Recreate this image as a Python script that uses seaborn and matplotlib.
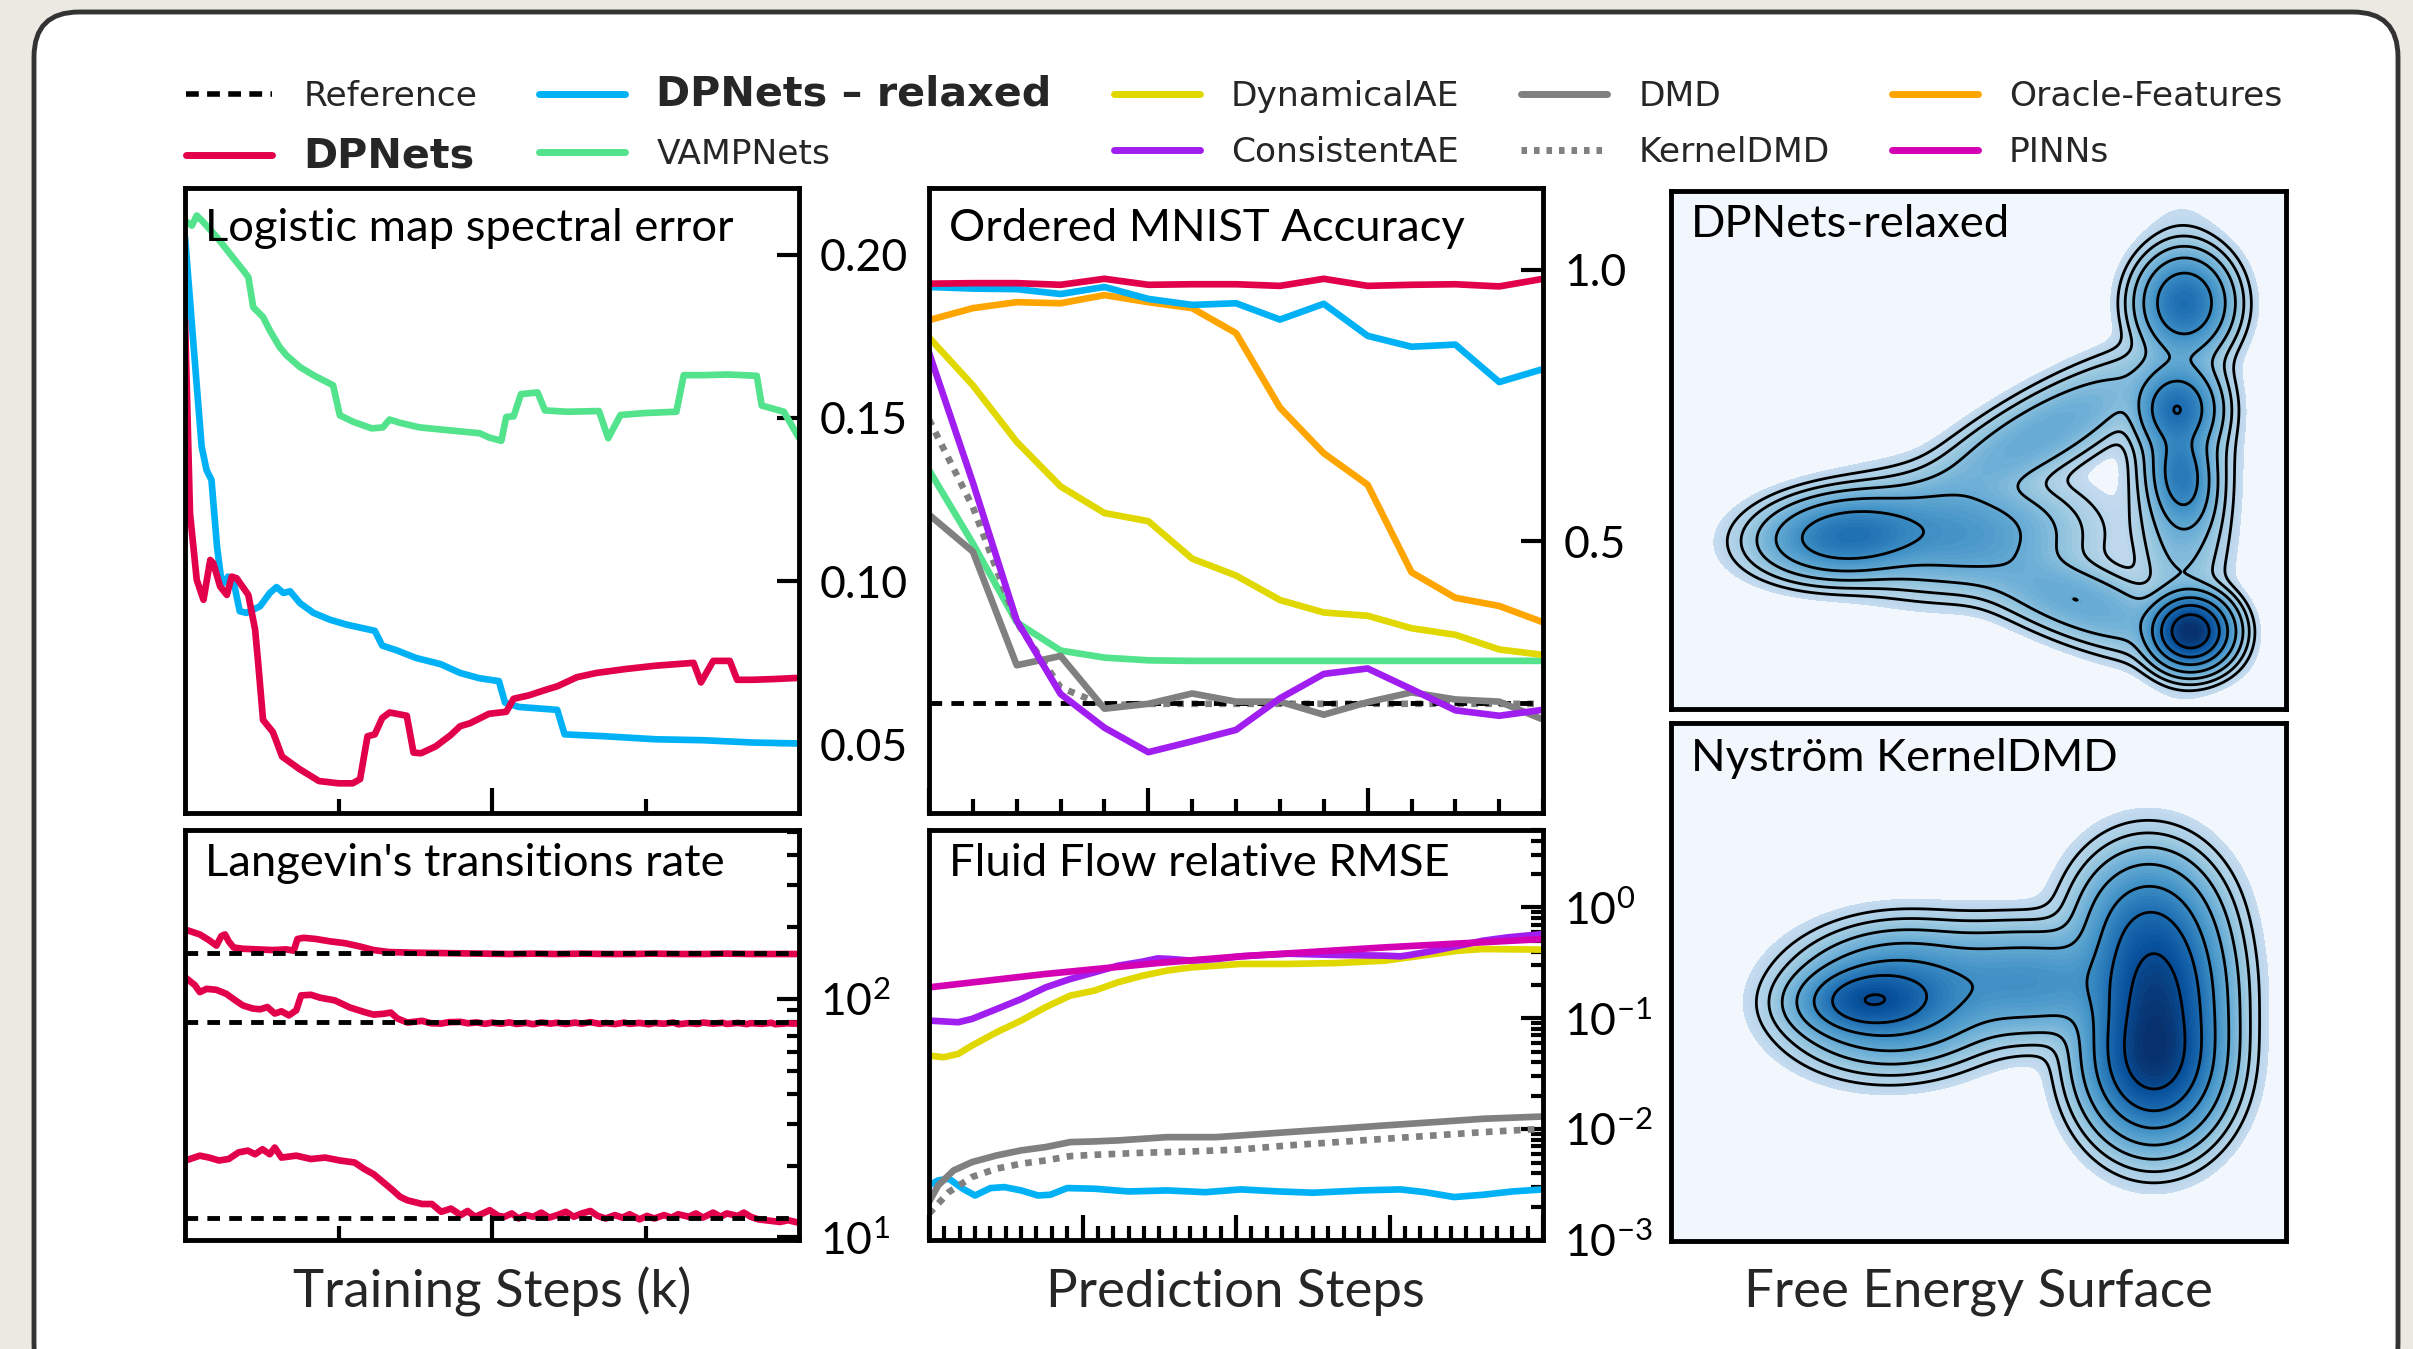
import numpy as np
import matplotlib
matplotlib.use("Agg")
import matplotlib.pyplot as plt
import seaborn as sns
from matplotlib.patches import FancyBboxPatch
from matplotlib.transforms import IdentityTransform
from matplotlib.ticker import MultipleLocator, FixedLocator, NullFormatter, LogLocator
from matplotlib.lines import Line2D

sns.set_theme(style="white")
plt.rcParams["font.family"] = ["Lato", "DejaVu Sans"]
plt.rcParams["mathtext.fontset"] = "custom"
plt.rcParams["mathtext.rm"] = "Lato"
plt.rcParams["mathtext.it"] = "Lato:italic"
plt.rcParams["mathtext.bf"] = "Lato:bold"
plt.rcParams["mathtext.default"] = "regular"

# ---------------- colours / names ----------------
C_DP = "#e2004b"
C_REL = "#00b2f5"
C_VAMP = "#52e38c"
C_DAE = "#e1d800"
C_CAE = "#a11ef0"
C_DMD = "#808080"
C_ORA = "#ffa500"
C_PINN = "#d400b4"

method_names = ["Reference", "DPNets", "DPNets – relaxed", "VAMPNets", "DynamicalAE",
                "ConsistentAE", "DMD", "KernelDMD", "Oracle-Features", "PINNs"]
panel_titles = ["Logistic map spectral error", "Ordered MNIST Accuracy", "DPNets-relaxed",
                "Langevin's transitions rate", "Fluid Flow relative RMSE", "Nyström KernelDMD"]
column_labels = ["Training Steps (k)", "Prediction Steps", "Free Energy Surface"]

# ---------------- Logistic map spectral error ----------------
logi_x_vamp = [0, 1.1, 1.9, 3.0, 5.2, 7.3, 9.5, 10.3, 11.1, 12.7, 13.8, 15.4, 16.5, 18.7, 20.9, 24.1,
               25.2, 27.4, 30.4, 32.2, 33.3, 35.0, 38.2, 42.5, 48.0, 49.5, 51.5, 52.3, 53.5, 54.7,
               57.4, 58.6, 62.2, 67.4, 68.9, 70.9, 74.9, 80.0, 81.2, 84.4, 88.4, 93.1, 93.9, 97.5, 100]
logi_vamp = [0.2104, 0.2089, 0.2120, 0.2099, 0.2053, 0.2003, 0.1951, 0.1931, 0.1839, 0.1809,
             0.1768, 0.1717, 0.1692, 0.1656, 0.1631, 0.1600, 0.1508, 0.1488, 0.1468, 0.1471,
             0.1495, 0.1485, 0.1471, 0.1463, 0.1453, 0.1440, 0.1430, 0.1503, 0.1505, 0.1573,
             0.1578, 0.1523, 0.1519, 0.1521, 0.1438, 0.1509, 0.1515, 0.1519, 0.1631, 0.1631,
             0.1633, 0.1629, 0.1538, 0.1519, 0.1438]
logi_x_rel = [0, 1.4, 2.7, 3.5, 4.3, 5.2, 6.0, 7.0, 7.9, 8.9, 10.0, 12.2, 13.8, 14.9, 16.0, 17.1,
              18.7, 20.9, 23.6, 26.3, 30.9, 32.1, 34.5, 37.6, 41.6, 44.8, 47.9, 51.1, 52.1, 54.3,
              60.6, 61.8, 68.5, 76.5, 84.4, 92.3, 100]
logi_rel = [0.2053, 0.1717, 0.1412, 0.1340, 0.1310, 0.1106, 0.0989, 0.1014, 0.0999, 0.0908,
            0.0903, 0.0923, 0.0964, 0.0982, 0.0964, 0.0969, 0.0933, 0.0903, 0.0882, 0.0867,
            0.0848, 0.0803, 0.0788, 0.0765, 0.0746, 0.0719, 0.0703, 0.0694, 0.0628, 0.0615,
            0.0606, 0.0531, 0.0525, 0.0516, 0.0513, 0.0506, 0.0503]
logi_x_dp = [0, 0.8, 1.9, 3.0, 4.1, 4.6, 5.7, 6.8, 7.6, 8.4, 10.3, 11.4, 11.9, 12.7, 14.3, 15.8,
             18.6, 21.8, 25.0, 27.3, 28.5, 29.7, 30.9, 32.1, 33.3, 36.1, 37.2, 38.4, 40.8, 43.2,
             44.8, 46.4, 49.5, 52.3, 53.5, 55.9, 59.0, 60.6, 63.8, 67.0, 71.7, 76.5, 82.8, 84.0,
             86.0, 88.7, 89.9, 92.3, 95.5, 100]
logi_dp = [0.180, 0.1208, 0.1004, 0.0943, 0.1065, 0.1055, 0.0984, 0.0958, 0.1014, 0.1009,
           0.0958, 0.0852, 0.0750, 0.0575, 0.0538, 0.0463, 0.0425, 0.0388, 0.0381, 0.0381,
           0.0394, 0.0525, 0.0531, 0.0581, 0.0598, 0.0588, 0.0475, 0.0473, 0.0494, 0.0528,
           0.0556, 0.0565, 0.0594, 0.0600, 0.0640, 0.0650, 0.0669, 0.0678, 0.0706, 0.0719,
           0.0731, 0.0741, 0.0750, 0.0690, 0.0756, 0.0756, 0.0698, 0.0698, 0.0700, 0.0704]
logi_yticks = [0.05, 0.10, 0.15, 0.20]
logi_yticklabels = ["0.05", "0.10", "0.15", "0.20"]

# ---------------- Ordered MNIST accuracy ----------------
mnist_steps = list(range(15))
mnist_ref = [0.203] * 15
mnist_dpnets = [0.974, 0.975, 0.975, 0.972, 0.983, 0.972, 0.973, 0.973, 0.970, 0.983, 0.970, 0.972, 0.973, 0.969, 0.983]
mnist_relaxed = [0.968, 0.965, 0.964, 0.955, 0.968, 0.946, 0.935, 0.938, 0.908, 0.937, 0.878, 0.858, 0.862, 0.793, 0.817]
mnist_oracle = [0.907, 0.929, 0.940, 0.938, 0.953, 0.940, 0.929, 0.883, 0.746, 0.662, 0.604, 0.443, 0.396, 0.381, 0.351]
mnist_dynae = [0.875, 0.787, 0.683, 0.601, 0.552, 0.537, 0.468, 0.437, 0.392, 0.369, 0.363, 0.340, 0.328, 0.301, 0.291]
mnist_vamp = [0.631, 0.496, 0.351, 0.299, 0.286, 0.281, 0.280, 0.280, 0.280, 0.280, 0.280, 0.280, 0.280, 0.280, 0.280]
mnist_consae = [0.847, 0.608, 0.354, 0.219, 0.157, 0.112, 0.132, 0.153, 0.211, 0.256, 0.266, 0.228, 0.189, 0.179, 0.190]
mnist_dmd = [0.549, 0.481, 0.272, 0.289, 0.192, 0.201, 0.220, 0.205, 0.205, 0.181, 0.204, 0.222, 0.209, 0.205, 0.172]
mnist_kdmd = [0.724, 0.563, 0.351, 0.231, 0.198, 0.201, 0.201, 0.201, 0.201, 0.201, 0.201, 0.201, 0.201, 0.201, 0.201]
mnist_yticks = [0.5, 1.0]
mnist_yticklabels = ["0.5", "1.0"]

# ---------------- Langevin transition rates ----------------
lang_ref = [155, 80, 12]
lang_x_top = [0, 2.4, 3.9, 5.1, 5.9, 6.5, 7.1, 7.9, 9.4, 11.8, 14.2, 16.5, 17.7, 18.3, 19.3, 21.3,
              23.6, 26.0, 28.3, 30.7, 33.1, 37.0, 40.9, 44.9, 48.8, 52.8, 56.7, 60.6, 64.6, 68.5,
              72.4, 76.4, 80.3, 84.3, 88.2, 92.1, 96.1, 100]
lang_top = [195, 186, 176, 167, 183, 186, 174, 164, 162, 161, 160, 161, 159, 178, 180, 178, 174,
            171, 166, 160, 157, 156, 155.5, 155, 154.5, 154, 154.5, 154, 154.5, 154, 154, 154.5,
            154, 154, 154.5, 154, 154, 154]
lang_x_mid = [0, 1.6, 2.4, 3.5, 5.1, 6.7, 8.3, 9.4, 11.0, 12.2, 13.4, 14.6, 15.7, 16.9, 18.1, 18.9,
              20.5, 22.0, 24.4, 26.8, 29.1, 30.7, 32.3, 33.5, 34.6, 36.2, 38.6, 40.0, 41.7, 43.0,
              44.9, 46.0, 47.5, 48.8, 50.0, 51.5, 52.8, 54.0, 55.5, 56.7, 58.0, 59.5, 60.6, 62.0,
              63.5, 64.6, 66.0, 67.5, 68.5, 70.0, 71.5, 72.4, 74.0, 75.5, 76.4, 78.0, 79.5, 80.3,
              82.0, 83.5, 84.3, 86.0, 87.5, 88.2, 90.0, 91.5, 92.1, 94.0, 95.5, 96.1, 98.0, 100]
lang_mid = [123, 114, 106.6, 110, 109, 104.9, 98, 93.8, 91, 90.3, 92.3, 86.7, 88.6, 85.2, 89.4,
            103.3, 103.9, 101, 98.4, 92, 88.1, 85.8, 86.5, 87.5, 82.6, 79.5, 80.8, 79.0, 78.7, 79.8,
            80.0, 78.9, 79.6, 78.5, 79.4, 78.6, 79.6, 78.4, 79.2, 78.2, 79.5, 78.7, 79.3, 78.4,
            79.4, 78.6, 79.8, 78.5, 79.1, 78.3, 79.4, 78.5, 79.2, 78.2, 79.1, 78.6, 79.5, 78.2,
            79.0, 78.4, 79.5, 78.6, 79.3, 78.4, 79.2, 78.3, 79.0, 78.5, 79.3, 78.2, 78.9, 78.6]
lang_x_low = [0, 2.4, 3.9, 5.5, 7.1, 8.7, 10.2, 11.4, 12.6, 13.8, 14.6, 15.7, 18.1, 20.5, 22.8,
              25.2, 27.6, 29.1, 30.7, 32.3, 33.9, 35.0, 36.2, 38.6, 40.2, 41.7, 43.3, 44.9, 46.0,
              47.2, 48.5, 49.6, 51.0, 52.0, 53.2, 54.3, 55.5, 56.7, 58.0, 59.3, 60.6, 62.0, 63.3,
              64.6, 66.0, 67.2, 68.5, 70.0, 71.2, 72.4, 74.0, 75.2, 76.4, 78.0, 79.2, 80.3, 82.0,
              83.2, 84.3, 86.0, 87.2, 88.2, 90.0, 91.0, 92.1, 93.3, 94.5, 95.7, 96.9, 98.2, 100]
lang_low = [20.96, 22.0, 21.6, 21.0, 21.3, 22.7, 23.1, 22.3, 23.4, 22.3, 23.8, 21.6, 22.0, 21.3,
            21.6, 21.0, 20.6, 19.4, 18.4, 17.0, 15.7, 14.8, 14.3, 13.8, 13.8, 12.8, 13.2, 12.4,
            12.9, 12.2, 12.6, 13.0, 12.3, 12.2, 12.6, 12.0, 12.4, 12.2, 12.7, 12.1, 12.4, 12.8,
            12.2, 12.6, 12.9, 12.3, 12.0, 12.4, 12.1, 12.5, 11.9, 12.3, 12.0, 12.4, 12.1, 12.5,
            12.2, 12.6, 12.1, 12.7, 12.2, 12.6, 12.3, 12.7, 12.2, 11.9, 11.8, 11.7, 11.6, 11.8, 11.5]

# ---------------- Fluid flow relative RMSE ----------------
fluid_x_pinn = [0, 7.6, 14.9, 20.3, 29.7, 40]
fluid_pinn = [0.190, 0.251, 0.315, 0.362, 0.436, 0.518]
fluid_x_cae = [0, 1.9, 2.8, 4.4, 6.0, 7.6, 9.2, 10.8, 12.3, 13.9, 14.9, 15.8, 17.1, 18.7, 20.3,
               21.8, 23.4, 26.6, 29.7, 30.7, 31.3, 32.9, 34.5, 36.1, 37.7, 40]
fluid_cae = [0.0953, 0.0921, 0.0986, 0.121, 0.149, 0.190, 0.226, 0.260, 0.298, 0.324, 0.347,
             0.342, 0.331, 0.342, 0.362, 0.372, 0.382, 0.372, 0.367, 0.362, 0.372, 0.407, 0.451,
             0.501, 0.537, 0.575]
fluid_x_dae = [0, 0.95, 1.9, 2.8, 4.4, 6.0, 7.6, 9.2, 10.8, 12.3, 13.9, 15.5, 17.1, 18.7, 20.3,
               23.4, 26.6, 29.7, 31.3, 32.9, 34.5, 36.1, 40]
fluid_dae = [0.0461, 0.0445, 0.0477, 0.0567, 0.0748, 0.0953, 0.126, 0.160, 0.178, 0.211, 0.242,
             0.269, 0.288, 0.298, 0.309, 0.309, 0.315, 0.331, 0.355, 0.380, 0.407, 0.421, 0.416]
fluid_x_dmd = [0, 0.6, 1.6, 2.8, 4.4, 6.0, 7.6, 9.2, 10.8, 12.3, 13.9, 15.5, 17.1, 18.7, 20.3,
               23.4, 26.6, 29.7, 32.9, 36.1, 40]
fluid_dmd = [0.00220, 0.00311, 0.00424, 0.00504, 0.00579, 0.00643, 0.00689, 0.00764, 0.00775,
             0.00791, 0.00818, 0.00847, 0.00847, 0.00847, 0.00877, 0.00940, 0.01007, 0.0108,
             0.01156, 0.0124, 0.0130]
fluid_x_kdmd = [0, 1.3, 2.8, 4.4, 6.0, 7.6, 9.2, 10.8, 13.9, 17.1, 20.3, 23.4, 26.6, 29.7, 32.9, 36.1, 40]
fluid_kdmd = [0.00173, 0.00271, 0.00370, 0.00440, 0.00488, 0.00522, 0.00571, 0.00587, 0.00612,
              0.00629, 0.00656, 0.00713, 0.00764, 0.00818, 0.00877, 0.00940, 0.01007]
fluid_x_rel = [0, 0.6, 1.3, 2.2, 3.0, 4.0, 4.9, 6.0, 7.1, 7.9, 9.0, 10.8, 13.0, 15.5, 18.0, 20.3,
               22.8, 25.0, 28.2, 30.7, 32.3, 34.2, 36.1, 38.0, 40]
fluid_rel = [0.00311, 0.00345, 0.00357, 0.00290, 0.00252, 0.00294, 0.00300, 0.00280, 0.00252,
             0.00256, 0.00294, 0.00290, 0.00274, 0.00280, 0.00270, 0.00286, 0.00274, 0.00267,
             0.00280, 0.00286, 0.00270, 0.00244, 0.00256, 0.00274, 0.00286]

# ---------------- Free energy surfaces: basins (centre, long/short spread, angle, height) --------
fes_rel_u = [0.845, 0.835, 0.822, 0.830, 0.29, 0.46, 0.60, 0.66, 0.83]
fes_rel_v = [0.150, 0.785, 0.580, 0.450, 0.335, 0.34, 0.53, 0.21, 0.50]
fes_rel_s1 = [0.030, 0.045, 0.038, 0.048, 0.065, 0.09, 0.12, 0.10, 0.16]
fes_rel_s2 = [0.032, 0.035, 0.031, 0.023, 0.036, 0.05, 0.035, 0.035, 0.035]
fes_rel_ang = [0, 90, 90, 95, 5, 0, 35, -25, 90]
fes_rel_h = [1.0, 0.29, 0.26, 0.19, 0.27, 0.10, 0.05, 0.05, 0.05]

fes_nys_u = [0.785, 0.790, 0.775, 0.32, 0.365, 0.58]
fes_nys_v = [0.350, 0.480, 0.600, 0.465, 0.47, 0.50]
fes_nys_s1 = [0.070, 0.080, 0.070, 0.050, 0.072, 0.10]
fes_nys_s2 = [0.049, 0.049, 0.052, 0.030, 0.055, 0.05]
fes_nys_ang = [90, 90, 90, 3, 5, 0]
fes_nys_h = [1.0, 0.8, 0.3, 0.5, 0.35, 0.15]

fes_line_levels = [-6.0, -5.0, -4.0, -3.0, -2.0, -1.2, -0.5]

# ---------------- figure ----------------
fig = plt.figure(figsize=(24.13, 13.49), dpi=100)
fig.set_facecolor("#ece8e2")
frame = FancyBboxPatch((34, -40), 2364, 1377, boxstyle="round,pad=0,rounding_size=45",
                       transform=IdentityTransform(), facecolor="white", edgecolor="#333333",
                       linewidth=3.5, zorder=-10)
fig.add_artist(frame)

ax_tl = fig.add_axes([0.0767, 0.3973, 0.2545, 0.4633])
ax_tm = fig.add_axes([0.3850, 0.3973, 0.2545, 0.4633])
ax_tr = fig.add_axes([0.6925, 0.4744, 0.2549, 0.3840])
ax_bl = fig.add_axes([0.0767, 0.0808, 0.2545, 0.3040])
ax_bm = fig.add_axes([0.3850, 0.0808, 0.2545, 0.3040])
ax_br = fig.add_axes([0.6925, 0.0800, 0.2549, 0.3840])

LW = 4.8
REF_LS = (0, (2.6, 1.9))
DOT_LS = (0, (1.0, 1.1))


def line(ax, x, y, color, lw=LW, ls="-", z=2):
    n_before = len(ax.lines)
    sns.lineplot(x=x, y=y, ax=ax, color=color, estimator=None, sort=False, legend=False)
    for ln in ax.lines[n_before:]:
        ln.set_linewidth(lw)
        ln.set_linestyle(ls)
        ln.set_zorder(z)


def style_axes(ax):
    ax.set_facecolor("white")
    ax.grid(False)
    for s in ax.spines.values():
        s.set_visible(True)
        s.set_linewidth(3.5)
        s.set_color("black")
        s.set_zorder(5)
    ax.tick_params(axis="y", which="both", left=False, right=True, labelleft=False,
                   labelright=True, direction="in", width=3, colors="black")
    ax.tick_params(axis="x", which="both", bottom=True, top=False, labelbottom=False,
                   direction="in", width=3, colors="black")
    ax.tick_params(axis="y", which="major", length=16, labelsize=32, pad=15)
    ax.tick_params(axis="y", which="minor", length=9)
    ax.tick_params(axis="x", which="major", length=18)
    ax.tick_params(axis="x", which="minor", length=10)
    ax.set_xlabel("")
    ax.set_ylabel("")


def title(ax, txt, y):
    ax.text(0.033, y, txt, transform=ax.transAxes, ha="left", va="center", fontsize=32.7,
            color="black", zorder=10)


# --- Logistic map
line(ax_tl, logi_x_vamp, logi_vamp, C_VAMP)
line(ax_tl, logi_x_rel, logi_rel, C_REL)
line(ax_tl, logi_x_dp, logi_dp, C_DP)
style_axes(ax_tl)
ax_tl.set_xlim(0, 100)
ax_tl.set_ylim(0.029, 0.2204)
ax_tl.xaxis.set_major_locator(FixedLocator([50]))
ax_tl.xaxis.set_minor_locator(FixedLocator([25, 75]))
ax_tl.set_yticks(logi_yticks)
ax_tl.set_yticklabels(logi_yticklabels)
title(ax_tl, panel_titles[0], 0.935)

# --- MNIST
line(ax_tm, mnist_steps, mnist_vamp, C_VAMP)
line(ax_tm, mnist_steps, mnist_dynae, C_DAE)
line(ax_tm, mnist_steps, mnist_oracle, C_ORA)
line(ax_tm, mnist_steps, mnist_relaxed, C_REL)
line(ax_tm, mnist_steps, mnist_dpnets, C_DP)
line(ax_tm, mnist_steps, mnist_kdmd, C_DMD, ls=DOT_LS)
line(ax_tm, mnist_steps, mnist_ref, "black", lw=3.5, ls=REF_LS)
line(ax_tm, mnist_steps, mnist_dmd, C_DMD)
line(ax_tm, mnist_steps, mnist_consae, C_CAE)
style_axes(ax_tm)
ax_tm.set_xlim(0, 14)
ax_tm.set_ylim(0, 1.15)
ax_tm.xaxis.set_major_locator(MultipleLocator(5))
ax_tm.xaxis.set_minor_locator(MultipleLocator(1))
ax_tm.set_yticks(mnist_yticks)
ax_tm.set_yticklabels(mnist_yticklabels)
title(ax_tm, panel_titles[1], 0.935)

# --- Langevin
for r in lang_ref:
    line(ax_bl, [0, 100], [r, r], "black", lw=3.5, ls=REF_LS, z=3)
line(ax_bl, lang_x_top, lang_top, C_DP)
line(ax_bl, lang_x_mid, lang_mid, C_DP)
line(ax_bl, lang_x_low, lang_low, C_DP)
ax_bl.set_yscale("log")
style_axes(ax_bl)
ax_bl.set_xlim(0, 100)
ax_bl.set_ylim(9.75, 510)
ax_bl.xaxis.set_major_locator(FixedLocator([50]))
ax_bl.xaxis.set_minor_locator(FixedLocator([25, 75]))
ax_bl.yaxis.set_major_locator(LogLocator(base=10))
ax_bl.yaxis.set_minor_locator(LogLocator(base=10, subs=np.arange(2, 10)))
ax_bl.yaxis.set_minor_formatter(NullFormatter())
title(ax_bl, panel_titles[3], 0.918)

# --- Fluid flow
line(ax_bm, fluid_x_rel, fluid_rel, C_REL)
line(ax_bm, fluid_x_kdmd, fluid_kdmd, C_DMD, ls=DOT_LS)
line(ax_bm, fluid_x_dmd, fluid_dmd, C_DMD)
line(ax_bm, fluid_x_dae, fluid_dae, C_DAE)
line(ax_bm, fluid_x_cae, fluid_cae, C_CAE)
line(ax_bm, fluid_x_pinn, fluid_pinn, C_PINN)
ax_bm.set_yscale("log")
style_axes(ax_bm)
ax_bm.set_xlim(0, 40)
ax_bm.set_ylim(1e-3, 5.0)
ax_bm.xaxis.set_major_locator(MultipleLocator(10))
ax_bm.xaxis.set_minor_locator(MultipleLocator(1))
ax_bm.yaxis.set_major_locator(LogLocator(base=10))
ax_bm.yaxis.set_minor_locator(LogLocator(base=10, subs=np.arange(2, 10)))
ax_bm.yaxis.set_minor_formatter(NullFormatter())
title(ax_bm, panel_titles[4], 0.918)


# --- Free energy surfaces
def fes_grid(cu, cv, s1s, s2s, angs, hs, n=500):
    g = np.linspace(0, 1, n)
    U, V = np.meshgrid(g, g)
    P = np.zeros_like(U)
    for a, b, s1, s2, ang, h in zip(cu, cv, s1s, s2s, angs, hs):
        t = np.deg2rad(ang)
        xp = (U - a) * np.cos(t) + (V - b) * np.sin(t)
        yp = -(U - a) * np.sin(t) + (V - b) * np.cos(t)
        P += h * np.exp(-0.5 * ((xp / s1) ** 2 + (yp / s2) ** 2))
    return U, V, P


def draw_fes(ax, U, V, P, txt, ty):
    ax.set_facecolor("#f2f7fd")
    R = P / P.max()
    T = R ** 0.25
    ax.contourf(U, V, T, levels=np.linspace(0.17, 1.0, 45), cmap="Blues", vmin=-0.1, vmax=1.0)
    L = np.log(R + 1e-300)
    ax.contour(U, V, L, levels=fes_line_levels, colors="black", linewidths=2.0,
               linestyles="solid")
    ax.set_xlim(0, 1)
    ax.set_ylim(0, 1)
    ax.set_xticks([])
    ax.set_yticks([])
    for s in ax.spines.values():
        s.set_visible(True)
        s.set_linewidth(3.5)
        s.set_color("black")
    ax.text(0.033, ty, txt, transform=ax.transAxes, ha="left", va="center", fontsize=32.7,
            color="black", zorder=10)


draw_fes(ax_tr, *fes_grid(fes_rel_u, fes_rel_v, fes_rel_s1, fes_rel_s2, fes_rel_ang, fes_rel_h),
         panel_titles[2], 0.935)
draw_fes(ax_br, *fes_grid(fes_nys_u, fes_nys_v, fes_nys_s1, fes_nys_s2, fes_nys_ang, fes_nys_h),
         panel_titles[5], 0.932)

# --- column labels
fig.text(0.2039, 0.042, column_labels[0], ha="center", va="center", fontsize=38)
fig.text(0.5120, 0.042, column_labels[1], ha="center", va="center", fontsize=38)
fig.text(0.8200, 0.042, column_labels[2], ha="center", va="center", fontsize=38)

# --- legend
handles = [
    Line2D([], [], color="black", lw=4, linestyle=(0, (2.3, 1.5))),
    Line2D([], [], color=C_DP, lw=5),
    Line2D([], [], color=C_REL, lw=5),
    Line2D([], [], color=C_VAMP, lw=5),
    Line2D([], [], color=C_DAE, lw=5),
    Line2D([], [], color=C_CAE, lw=5),
    Line2D([], [], color=C_DMD, lw=5),
    Line2D([], [], color=C_DMD, lw=5, linestyle=(0, (0.8, 1.0))),
    Line2D([], [], color=C_ORA, lw=5),
    Line2D([], [], color=C_PINN, lw=5),
]
leg = fig.legend(handles, method_names, ncol=5, loc="center", bbox_to_anchor=(0.5114, 0.907),
                 frameon=False, prop={"family": "DejaVu Sans", "size": 24.8},
                 handlelength=2.5, handletextpad=0.9, columnspacing=1.8, labelspacing=0.68)
for t in leg.get_texts():
    if t.get_text() in ("DPNets", "DPNets – relaxed"):
        t.set_fontweight("bold")
        t.set_fontsize(29.7)

fig.savefig("out.png", dpi=100, facecolor=fig.get_facecolor())
